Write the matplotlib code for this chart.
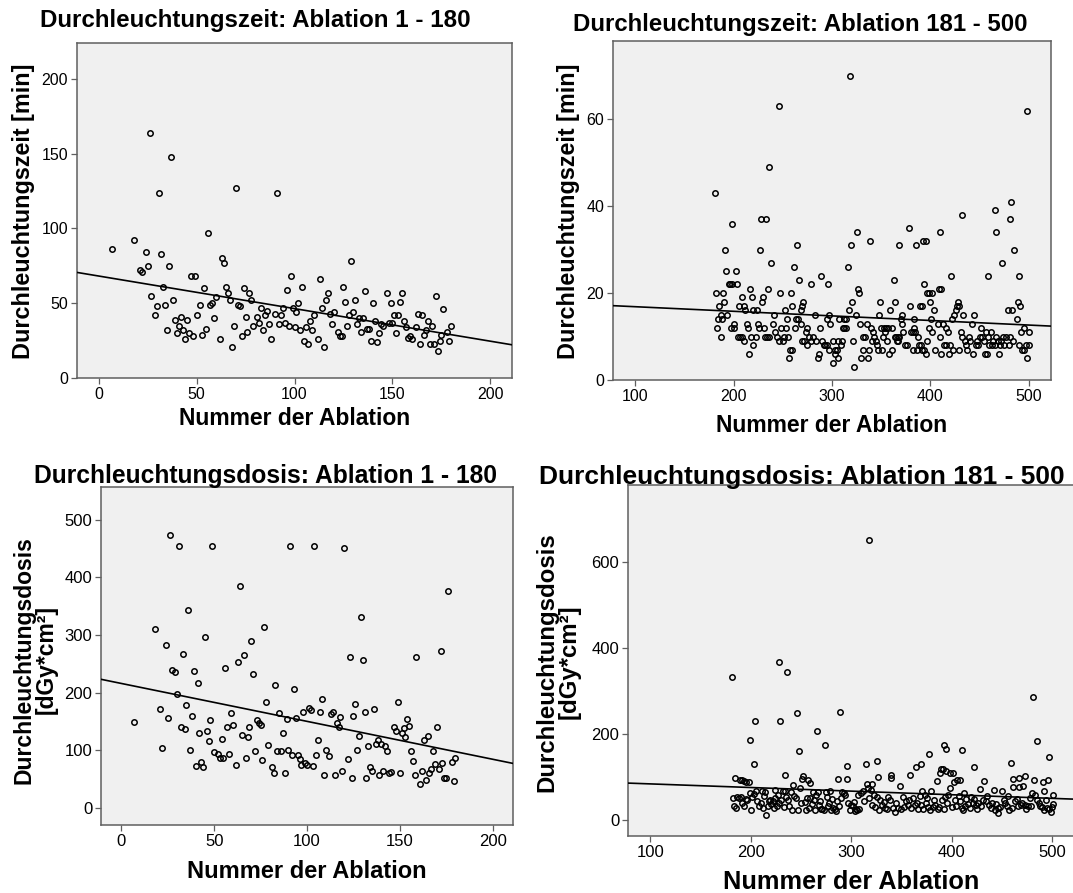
import numpy as np
import matplotlib
matplotlib.use("Agg")
import matplotlib.pyplot as plt

plt.rcParams['font.family'] = ['Liberation Sans', 'DejaVu Sans']

# ---------------- data ----------------
# Durchleuchtungszeit [min], Ablation 1 - 180
zeit_a_nr = [7, 18, 21, 22, 24, 25, 26, 27, 29, 30, 31, 32, 33, 34, 35, 36, 37, 38, 39, 40,
             41, 42, 43, 44, 45, 46, 47, 48, 49, 50, 52, 53, 54, 55, 56, 57, 58, 59, 60, 62,
             63, 64, 65, 66, 67, 68, 69, 70, 71, 72, 73, 74, 75, 76, 77, 78, 79, 81, 82, 83,
             84, 85, 86, 87, 88, 90, 91, 92, 93, 94, 95, 96, 97, 98, 99, 100, 101, 102, 103, 104,
             105, 106, 107, 108, 109, 110, 112, 113, 114, 115, 116, 117, 118, 119, 120, 122, 123, 124, 125, 126,
             127, 128, 129, 130, 131, 132, 133, 134, 135, 136, 137, 138, 139, 140, 141, 142, 143, 144, 145, 147,
             148, 149, 150, 151, 152, 153, 154, 155, 156, 157, 158, 159, 160, 162, 163, 164, 165, 166, 167, 168,
             169, 170, 171, 172, 173, 174, 175, 176, 178, 179, 180]
zeit_a_min = [86, 92, 72, 71, 84, 75, 164, 55, 42, 48, 124, 83, 61, 49, 32, 75, 148, 52, 39, 30,
              35, 41, 32, 26, 39, 30, 68, 28, 68, 42, 49, 29, 60, 33, 97, 49, 50, 40, 54, 26,
              80, 77, 61, 57, 52, 21, 35, 127, 49, 48, 28, 60, 41, 31, 57, 52, 35, 41, 37, 47,
              32, 42, 45, 36, 26, 43, 124, 36, 42, 47, 37, 59, 35, 68, 47, 34, 44, 50, 32, 61,
              25, 34, 23, 38, 32, 42, 26, 66, 47, 21, 52, 57, 43, 36, 44, 31, 28, 28, 61, 51,
              35, 42, 78, 44, 52, 36, 40, 31, 40, 58, 33, 33, 25, 50, 38, 24, 30, 36, 35, 57,
              37, 50, 37, 42, 30, 42, 51, 57, 38, 34, 27, 28, 26, 34, 43, 23, 42, 29, 32, 38,
              23, 35, 23, 55, 18, 25, 29, 46, 31, 25, 35]

# Durchleuchtungszeit [min], Ablation 181 - 500
zeit_b_nr = [181, 198, 191, 192, 202, 195, 196, 198, 203, 228, 233, 227, 236, 238, 246, 261, 264, 266, 289, 296,
             279, 235, 247, 258, 318, 316, 319, 325, 339, 326, 327, 363, 368, 378, 385, 392, 395, 393, 410, 421,
             432, 397, 399, 402, 409, 411, 466, 467, 473, 482, 481, 485, 490, 459, 498,
             182, 183, 184, 185, 187, 187, 188, 189, 190, 193, 197, 200, 200, 206, 204, 207, 209, 211, 212, 209,
             211, 214, 215, 216, 217, 219, 218, 220, 220, 223, 224, 225, 226, 229, 230, 231, 232, 234, 236, 241,
             240, 242, 244, 246, 248, 250, 251, 252, 253, 254, 255, 256, 257, 259, 259, 262, 263, 265, 268, 269,
             270, 271, 270, 272, 275, 274, 275, 277, 279, 281, 283, 284, 286, 287, 288, 290, 292, 293, 295, 295,
             297, 297, 298, 301, 301, 303, 305, 303, 306, 306, 307, 309, 310, 311, 312, 314, 312, 314, 317, 320,
             321, 322, 324, 328, 329, 331, 332, 334, 336, 337, 338, 340, 341, 342, 343, 345, 346, 347, 349, 348,
             350, 351, 352, 353, 354, 355, 356, 357, 358, 359, 361, 361, 364, 364, 365, 367, 368, 366, 367, 370,
             371, 371, 372, 374, 376, 379, 380, 382, 383, 384, 383, 382, 386, 387, 388, 390, 389, 391, 391, 393,
             395, 397, 399, 400, 401, 402, 404, 405, 408, 410, 411, 413, 414, 416, 416, 418, 419, 420, 422, 423,
             424, 426, 427, 428, 429, 429, 431, 432, 433, 435, 436, 437, 439, 440, 442, 443, 444, 446, 447, 448,
             450, 451, 452, 454, 456, 455, 457, 459, 460, 462, 463, 464, 466, 467, 469, 470, 471, 472, 474, 475,
             477, 479, 483, 480, 481, 484, 488, 489, 490, 491, 492, 493, 495, 495, 497, 498, 500, 500]
zeit_b_min = [43, 36, 30, 25, 25, 22, 22, 22, 22, 37, 37, 30, 49, 27, 63, 26, 31, 23, 24, 22,
              22, 21, 20, 20, 70, 26, 31, 34, 32, 21, 20, 23, 31, 35, 31, 32, 32, 22, 34, 24,
              38, 20, 20, 20, 21, 21, 39, 34, 27, 41, 37, 30, 24, 24, 62,
              20, 12, 14, 17, 15, 10, 14, 20, 18, 15, 12, 12, 13, 17, 10, 10, 10, 17, 16, 19,
              9, 13, 12, 6, 21, 19, 10, 16, 8, 10, 16, 13, 12, 18, 19, 12, 10, 10, 10, 15,
              13, 11, 10, 9, 12, 9, 10, 16, 12, 14, 10, 5, 7, 7, 17, 12, 14, 14, 13, 16,
              17, 18, 9, 9, 12, 11, 8, 10, 9, 10, 15, 9, 5, 6, 12, 9, 8, 8, 8, 14,
              15, 7, 13, 9, 4, 7, 7, 6, 5, 9, 14, 8, 9, 12, 12, 12, 14, 14, 16, 18,
              9, 3, 15, 13, 5, 10, 7, 10, 13, 5, 7, 12, 9, 11, 10, 9, 8, 7, 18, 15,
              12, 7, 10, 12, 11, 12, 9, 12, 6, 16, 12, 7, 18, 10, 10, 10, 10, 9, 9, 14,
              13, 15, 11, 8, 8, 17, 11, 11, 12, 11, 14, 7, 7, 10, 8, 8, 17, 17, 7, 7,
              6, 9, 12, 18, 14, 11, 16, 7, 13, 10, 6, 13, 8, 8, 12, 11, 6, 8, 14, 7,
              15, 16, 17, 18, 17, 7, 11, 10, 15, 9, 8, 7, 10, 9, 13, 6, 15, 8, 9, 8,
              10, 12, 10, 9, 11, 6, 6, 10, 8, 11, 8, 9, 8, 10, 9, 6, 8, 9, 10, 8,
              10, 16, 16, 8, 10, 9, 14, 18, 8, 17, 11, 7, 7, 12, 8, 5, 8, 11]

# Durchleuchtungsdosis [dGy*cm²], Ablation 1 - 180
dosis_a_nr = [7, 18, 21, 22, 24, 25, 26, 27, 29, 30, 31, 32, 33, 34, 35, 36, 37, 38, 39, 40,
              41, 42, 43, 44, 45, 46, 47, 48, 49, 50, 52, 53, 54, 55, 56, 57, 58, 59, 60, 62,
              63, 64, 65, 66, 67, 68, 69, 70, 71, 72, 73, 74, 75, 76, 77, 78, 79, 81, 82, 83,
              84, 85, 86, 87, 88, 89, 90, 91, 92, 93, 94, 95, 96, 97, 98, 99, 100, 101, 102, 103,
              104, 105, 106, 107, 108, 109, 110, 112, 113, 114, 115, 116, 117, 118, 119, 120, 122, 123, 124, 125,
              126, 127, 128, 129, 130, 131, 132, 133, 134, 135, 136, 137, 138, 139, 140, 141, 142, 143, 144, 145,
              147, 148, 149, 150, 151, 152, 153, 154, 155, 156, 157, 158, 159, 161, 162, 163, 164, 165, 166, 167,
              168, 169, 170, 171, 172, 173, 174, 175, 176, 178, 179, 180]
dosis_a_val = [149, 311, 172, 103, 282, 155, 474, 239, 235, 198, 455, 140, 267, 136, 178, 344, 101, 159, 238, 72,
               216, 129, 80, 70, 297, 133, 116, 152, 455, 96, 93, 86, 119, 86, 242, 140, 94, 165, 144, 74,
               253, 385, 126, 265, 86, 122, 140, 290, 233, 99, 152, 147, 143, 83, 313, 184, 109, 71, 61, 213,
               99, 164, 99, 129, 60, 154, 101, 455, 92, 206, 156, 92, 84, 75, 166, 78, 74, 174, 170, 72,
               455, 92, 117, 167, 188, 56, 100, 90, 162, 166, 56, 148, 141, 157, 63, 451, 85, 261, 52, 159,
               181, 100, 125, 331, 257, 167, 51, 108, 71, 64, 171, 110, 118, 57, 111, 63, 108, 98, 60, 62,
               141, 134, 184, 60, 129, 138, 123, 154, 142, 99, 82, 56, 261, 41, 64, 118, 49, 125, 61, 67,
               99, 76, 141, 68, 272, 77, 51, 51, 377, 80, 47, 87]

# Durchleuchtungsdosis [dGy*cm²], Ablation 181 - 500
dosis_b_nr = [181, 228, 236, 199, 204, 229, 246, 248, 203, 234, 266, 274, 289, 296, 318, 315, 326, 378, 393, 395,
              410, 422, 481, 485, 497, 459, 365, 370, 359, 340, 390,
              184, 189, 191, 193, 195, 198, 182, 183, 185, 186, 188, 190, 191, 193, 195, 200, 199, 201, 205, 206,
              208, 210, 211, 213, 214, 215, 217, 218, 220, 222, 224, 224, 226, 227, 230, 232, 234, 235, 238, 240,
              241, 242, 245, 247, 249, 251, 252, 254, 255, 257, 259, 259, 261, 262, 264, 267, 269, 270, 275, 271,
              273, 276, 277, 279, 280, 282, 284, 286, 287, 296, 291, 293, 294, 300, 302, 304, 306, 305, 307, 310,
              312, 316, 317, 320, 321, 321, 323, 326, 327, 329, 331, 334, 337, 340, 342, 344, 347, 349, 352, 355,
              357, 360, 364, 367, 370, 371, 372, 374, 376, 377, 380, 382, 384, 386, 387, 389, 392, 395, 399, 401,
              391, 394, 397, 399, 402, 405, 408, 404, 408, 411, 413, 416, 412, 419, 421, 424, 426, 429, 428, 432,
              434, 437, 440, 442, 443, 446, 446, 450, 452, 455, 457, 461, 467, 461, 467, 471, 463, 466, 469, 473,
              476, 479, 473, 482, 483, 480, 491, 496, 492, 485, 488, 492, 495, 499, 501, 501,
              196, 203, 212, 219, 223, 228, 233, 237, 243, 250, 256, 258, 263, 265, 268, 278, 281, 285, 288, 290,
              297, 299, 303, 308, 313, 318, 324, 328, 333, 336, 339, 345, 350, 353, 358, 362, 366, 369, 375, 379,
              383, 388, 393, 396, 400, 403, 407, 410, 414, 418, 422, 425, 431, 435, 439, 444, 448, 453, 456, 460,
              465, 470, 474, 478, 487, 490, 494, 497, 500]
dosis_b_val = [332, 367, 344, 185, 231, 231, 248, 161, 130, 104, 206, 175, 251, 126, 651, 129, 136, 153, 174, 165,
               162, 123, 287, 184, 145, 133, 123, 130, 104, 104, 117,
               97, 93, 93, 90, 88, 88, 50, 33, 27, 54, 50, 53, 40, 33, 48, 22, 62, 53, 66, 44,
               33, 40, 67, 55, 65, 12, 32, 44, 37, 44, 51, 69, 31, 58, 46, 67, 68, 54, 31, 64,
               22, 81, 51, 23, 75, 95, 101, 42, 23, 93, 85, 51, 36, 64, 23, 64, 43, 26, 64, 25,
               23, 52, 31, 66, 23, 27, 25, 43, 95, 95, 64, 62, 58, 35, 31, 20, 22, 26, 58, 62,
               66, 84, 74, 70, 84, 35, 58, 54, 99, 46, 35, 27, 54, 97, 27, 19, 27, 78, 54, 43,
               35, 27, 35, 25, 35, 66, 25, 58, 50, 30, 66, 30, 35, 91, 25, 108, 118, 113, 108, 108,
               46, 54, 58, 74, 87, 93, 93, 31, 43, 23, 31, 37, 62, 54, 39, 35, 39, 31, 71, 90,
               43, 35, 39, 70, 23, 16, 27, 66, 46, 31, 23, 96, 97, 77, 77, 79, 43, 31, 35, 35,
               31, 31, 102, 93, 58, 62, 89, 93, 68, 46, 31, 23, 27, 19, 58, 37,
               45, 60, 28, 47, 27, 40, 30, 45, 56, 40, 50, 28, 45, 58, 35, 40, 48, 20, 33, 50,
               40, 22, 42, 25, 43, 50, 30, 22, 42, 25, 45, 38, 25, 30, 45, 50, 40, 55, 40, 22,
               45, 30, 25, 40, 30, 45, 55, 28, 48, 27, 48, 25, 45, 55, 28, 37, 30, 40, 55, 28,
               48, 40, 26, 50, 40, 30, 45, 25, 30]

# linear fits (intercept, slope)
fit_zeit_a = (68.2, -0.218)
fit_zeit_b = (17.92, -0.01056)
fit_dosis_a = (215.8, -0.658)
fit_dosis_b = (91.85, -0.0842)

titles = ["Durchleuchtungszeit: Ablation 1 - 180",
          "Durchleuchtungszeit: Ablation 181 - 500",
          "Durchleuchtungsdosis: Ablation 1 - 180",
          "Durchleuchtungsdosis: Ablation 181 - 500"]
xlabel = "Nummer der Ablation"
ylabel_zeit = "Durchleuchtungszeit [min]"
ylabel_dosis = "Durchleuchtungsdosis\n[dGy*cm²]"

# ---------------- layout ----------------
W, H = 1073, 893
fig = plt.figure(figsize=(W / 100, H / 100), dpi=100)
fig.patch.set_facecolor('white')


def box(l, t, r, b):
    return [l / W, 1 - b / H, (r - l) / W, (b - t) / H]


def ftext(x, y, s, **kw):
    fig.text(x / W, 1 - y / H, s, **kw)


BG = '#f0f0f0'
EDGE = '#5f5f5f'


def panel(rect, xs, ys, fit, xlim, ylim, xticks, yticks, tsize):
    ax = fig.add_axes(box(*rect))
    ax.set_facecolor(BG)
    ax.plot(xs, ys, linestyle='none', marker='o', markersize=3.9,
            markerfacecolor='none', markeredgecolor='black', markeredgewidth=1.1, zorder=3)
    lx = np.array(xlim, dtype=float)
    ax.plot(lx, fit[0] + fit[1] * lx, color='black', lw=1.2, zorder=4)
    ax.set_xlim(*xlim)
    ax.set_ylim(*ylim)
    ax.set_xticks(xticks)
    ax.set_yticks(yticks)
    for sp in ax.spines.values():
        sp.set_color(EDGE)
        sp.set_linewidth(1.1)
    ax.tick_params(direction='out', length=4.3, width=0.9, color=EDGE,
                   labelsize=tsize, labelcolor='black', pad=2,
                   top=False, right=False)
    return ax


panel((77, 43, 512, 378), zeit_a_nr, zeit_a_min, fit_zeit_a, (-11, 211), (0, 224),
      [0, 50, 100, 150, 200], [0, 50, 100, 150, 200], 11.5)
panel((613, 41, 1051, 380), zeit_b_nr, zeit_b_min, fit_zeit_b, (77.5, 522.5), (0, 78),
      [100, 200, 300, 400, 500], [0, 20, 40, 60], 11.5)
panel((101, 487, 513, 825), dosis_a_nr, dosis_a_val, fit_dosis_a, (-11, 211), (-30, 557),
      [0, 50, 100, 150, 200], [0, 100, 200, 300, 400, 500], 12)
panel((628, 485, 1075, 836), dosis_b_nr, dosis_b_val, fit_dosis_b, (77.8, 523), (-38, 780),
      [100, 200, 300, 400, 500], [0, 200, 400, 600], 12)

bold = dict(fontweight='bold', color='black', ha='center', va='center')
ftext(255, 21, titles[0], fontsize=17.4, **bold)
ftext(800, 25, titles[1], fontsize=17.3, **bold)
ftext(266, 476, titles[2], fontsize=17.7, **bold)
ftext(802, 477, titles[3], fontsize=19, **bold)

ftext(295, 419, xlabel, fontsize=16.5, **bold)
ftext(832, 425, xlabel, fontsize=16.5, **bold)
ftext(307, 871, xlabel, fontsize=17, **bold)
ftext(851, 882, xlabel, fontsize=18.2, **bold)

ftext(24, 211, ylabel_zeit, fontsize=16.8, rotation=90, **bold)
ftext(568, 211, ylabel_zeit, fontsize=16.8, rotation=90, **bold)
ftext(35, 660, ylabel_dosis, fontsize=16.5, rotation=90, linespacing=0.95, **bold)
ftext(558, 662, ylabel_dosis, fontsize=17.3, rotation=90, linespacing=0.95, **bold)

fig.savefig('out.png', dpi=100)
